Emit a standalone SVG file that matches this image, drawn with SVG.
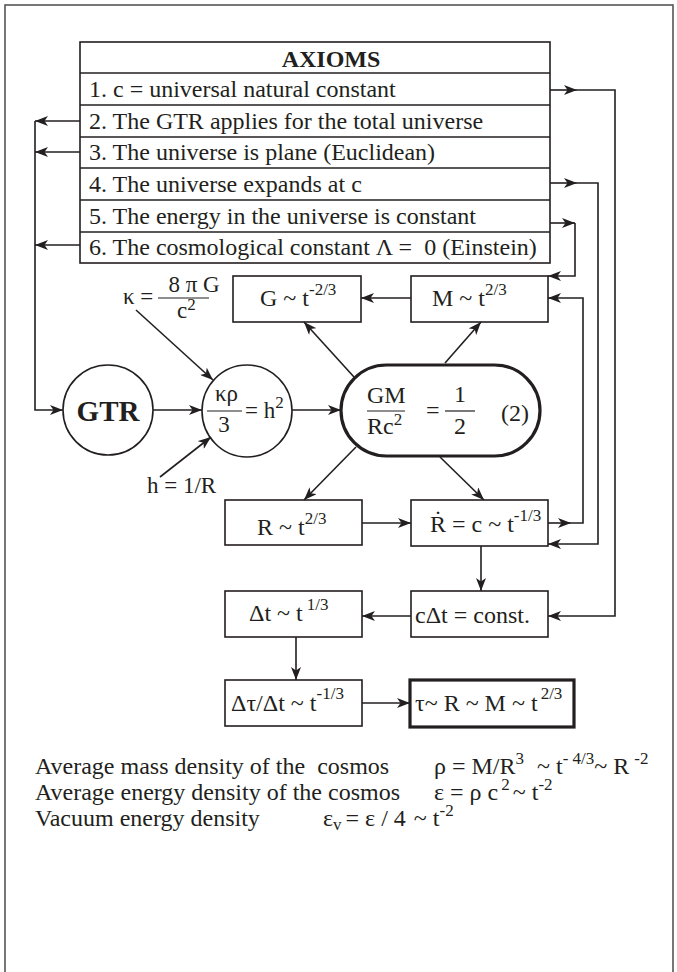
<svg xmlns="http://www.w3.org/2000/svg" width="677" height="972" viewBox="0 0 677 972">
<style>
text{font-family:"Liberation Serif","Times New Roman",serif;fill:#231f20;font-size:24px}
.b{font-weight:bold}
.f{font-size:23px}
.s{font-size:17px}
.box{fill:#fff;stroke:#231f20;stroke-width:1.6}
.thick{fill:#fff;stroke:#231f20;stroke-width:3.2}
.ln{fill:none;stroke:#231f20;stroke-width:1.6}
.c line,.c path{fill:none;stroke:#231f20;stroke-width:1.6}
.a{marker-end:url(#ah)}
</style>
<defs>
<marker id="ah" viewBox="0 0 13 10" refX="13" refY="5" markerWidth="13" markerHeight="10" orient="auto" markerUnits="userSpaceOnUse">
<path d="M0,0 L13,5 L0,10 L3.5,5 z" fill="#231f20"/>
</marker>
</defs>
<rect x="0" y="0" width="677" height="972" fill="#fff"/>
<rect x="5" y="5" width="668" height="990" fill="none" stroke="#555" stroke-width="1.6"/>

<g id="axioms">
<rect class="box" x="80" y="42" width="470" height="221"/>
<line class="ln" x1="80" y1="73" x2="550" y2="73"/>
<line class="ln" x1="80" y1="105" x2="550" y2="105"/>
<line class="ln" x1="80" y1="137" x2="550" y2="137"/>
<line class="ln" x1="80" y1="168" x2="550" y2="168"/>
<line class="ln" x1="80" y1="200" x2="550" y2="200"/>
<line class="ln" x1="80" y1="232" x2="550" y2="232"/>
<text class="b" x="331" y="67" text-anchor="middle">AXIOMS</text>
<text x="89" y="97">1. c = universal natural constant</text>
<text x="89" y="129">2. The GTR applies for the total universe</text>
<text x="89" y="160">3. The universe is plane (Euclidean)</text>
<text x="89" y="192">4. The universe expands at c</text>
<text x="89" y="224">5. The energy in the universe is constant</text>
<text x="89" y="255">6. The cosmological constant Λ =&#160; 0 (Einstein)</text>
</g>

<g id="gtr">
<circle class="box" cx="108" cy="410" r="45"/>
<text class="b" x="108" y="421" text-anchor="middle" style="font-size:29px">GTR</text>
</g>

<g id="friedmann">
<ellipse class="box" cx="247" cy="411" rx="45" ry="46"/>
<text class="f" x="215" y="401">κρ</text>
<line class="ln" x1="207" y1="411" x2="242" y2="411" style="stroke-width:1.2"/>
<text class="f" x="224" y="432" text-anchor="middle">3</text>
<text class="f" x="245" y="418">= h<tspan class="s" dy="-10">2</tspan></text>
</g>

<g id="kappa">
<text class="f" x="123" y="304">κ =</text>
<text class="f" x="194" y="292" text-anchor="middle">8 π G</text>
<line class="ln" x1="158" y1="298" x2="209" y2="298" style="stroke-width:1.2"/>
<text class="f" x="177" y="318">c<tspan class="s" dy="-8">2</tspan></text>
</g>

<g id="hlabel">
<text class="f" x="147" y="493">h = 1/R</text>
</g>

<g id="critical">
<rect class="thick" x="341" y="365" width="199" height="91" rx="45.5"/>
<text x="367" y="403">GM</text>
<line class="ln" x1="367" y1="411" x2="405" y2="411" style="stroke-width:1.2"/>
<text x="367" y="434">Rc<tspan class="s" dy="-9">2</tspan></text>
<text x="426" y="418">=</text>
<text x="460" y="402" text-anchor="middle">1</text>
<line class="ln" x1="445" y1="411" x2="475" y2="411" style="stroke-width:1.2"/>
<text x="460" y="434" text-anchor="middle">2</text>
<text x="501" y="421">(2)</text>
</g>

<g id="gbox">
<rect class="box" x="233" y="276" width="128" height="46"/>
<text x="260" y="306">G ~ t<tspan class="s" dy="-11">-2/3</tspan></text>
</g>

<g id="mbox">
<rect class="box" x="411" y="276" width="137" height="46"/>
<text x="432" y="306">M ~ t<tspan class="s" dy="-11">2/3</tspan></text>
</g>

<g id="rbox">
<rect class="box" x="225" y="500" width="137" height="45"/>
<text x="257" y="535">R ~ t<tspan class="s" dy="-11">2/3</tspan></text>
</g>

<g id="rdotbox">
<rect class="box" x="411" y="500" width="137" height="46"/>
<text x="430" y="532">R = c ~ t<tspan class="s" dy="-11">-1/3</tspan></text>
<text x="438" y="527" text-anchor="middle">˙</text>
</g>

<g id="ctbox">
<rect class="box" x="411" y="591" width="137" height="46"/>
<text x="415" y="623">cΔt = const.</text>
</g>

<g id="dtbox">
<rect class="box" x="225" y="591" width="137" height="46"/>
<text x="249" y="621">Δt ~ t<tspan class="s" dx="4" dy="-11">1/3</tspan></text>
</g>

<g id="dtaubox">
<rect class="box" x="225" y="680" width="137" height="46"/>
<text x="231" y="711">Δτ/Δt ~ t<tspan class="s" dy="-12">-1/3</tspan></text>
</g>

<g id="taubox">
<rect class="thick" x="410" y="680" width="164" height="47"/>
<text x="415" y="711">τ~ R ~ M ~ t<tspan class="s" dx="3" dy="-12">2/3</tspan></text>
</g>

<g id="connectors" class="c">
<line class="a" x1="80" y1="121" x2="35" y2="121"/>
<line class="a" x1="80" y1="152" x2="35" y2="152"/>
<line class="a" x1="80" y1="245" x2="35" y2="245"/>
<path class="a" d="M35,121 V410 H63"/>
<line class="a" x1="153" y1="410" x2="202" y2="410"/>
<line class="a" x1="292" y1="410" x2="341" y2="410"/>
<line class="a" x1="136" y1="310" x2="213" y2="380"/>
<line class="a" x1="160" y1="477" x2="211" y2="437"/>
<line class="a" x1="354" y1="377" x2="304" y2="322"/>
<line class="a" x1="445" y1="363" x2="481" y2="322"/>
<line class="a" x1="356" y1="447" x2="304" y2="500"/>
<line class="a" x1="440" y1="457" x2="484" y2="500"/>
<line class="a" x1="411" y1="298" x2="361" y2="298"/>
<line class="a" x1="362" y1="523" x2="411" y2="523"/>
<line class="a" x1="548" y1="523" x2="571" y2="523"/>
<path class="a" d="M571,523 H583 V298 H548"/>
<line class="a" x1="550" y1="90" x2="577" y2="90"/>
<path class="a" d="M577,90 H615 V616 H548"/>
<line class="a" x1="550" y1="183" x2="577" y2="183"/>
<path class="a" d="M577,183 H598 V544 H548"/>
<line class="a" x1="550" y1="223" x2="575" y2="223"/>
<path class="a" d="M575,223 V276 H548"/>
<line class="a" x1="481" y1="546" x2="481" y2="591"/>
<line class="a" x1="411" y1="616" x2="362" y2="616"/>
<line class="a" x1="296" y1="637" x2="296" y2="680"/>
<line class="a" x1="362" y1="703" x2="410" y2="703"/>
</g>

<g id="notes">
<text x="35" y="774">Average mass density of the&#160; cosmos</text>
<text x="434" y="774">ρ = M/R<tspan class="s" dy="-10">3</tspan><tspan dx="13" dy="10">~ t</tspan><tspan class="s" dy="-10">- 4/3</tspan><tspan dy="10">~ R</tspan><tspan class="s" dx="5" dy="-10">-2</tspan></text>
<text x="35" y="800">Average energy density of the cosmos</text>
<text x="434" y="800">ε = ρ c<tspan class="s" dx="3" dy="-10">2</tspan><tspan dx="3" dy="10">~</tspan><tspan dx="6">t</tspan><tspan class="s" dy="-10">-2</tspan></text>
<text x="35" y="826">Vacuum energy density</text>
<text x="323" y="826">ε<tspan class="s" dy="4">v</tspan><tspan dx="4" dy="-4">= ε / 4</tspan><tspan dx="8">~ t</tspan><tspan class="s" dy="-10">-2</tspan></text>
</g>
</svg>
